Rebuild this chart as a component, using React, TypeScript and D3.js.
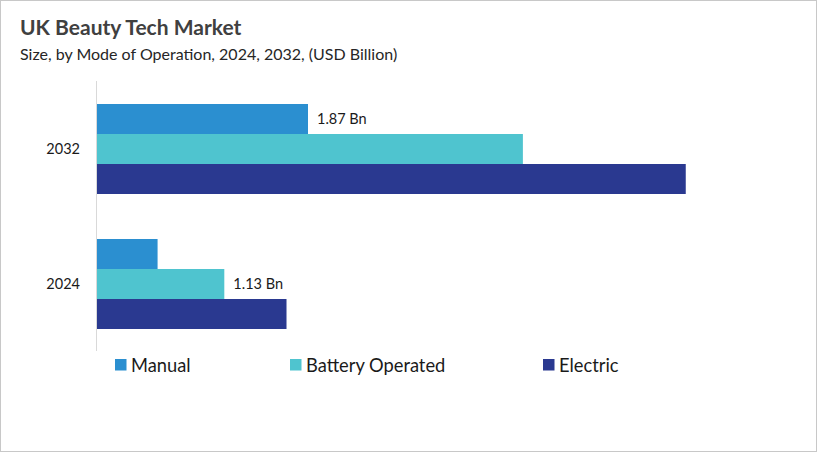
import React from "react";
import * as d3 from "d3";

const years = ["2032", "2024"];
const series = ["Manual", "Battery Operated", "Electric"];
const colors = ["#2B8FD0", "#4FC4CF", "#2A3990"];
const values2032 = [1.87, 3.77, 5.21];
const values2024 = [0.54, 1.13, 1.68];
const labels = [
  { year: "2032", series: "Manual", text: "1.87 Bn" },
  { year: "2024", series: "Battery Operated", text: "1.13 Bn" },
];

const W = 817;
const H = 452;
const FONT = "Lato, 'Open Sans', sans-serif";

export default function App() {
  const data: Record<string, number[]> = { "2032": values2032, "2024": values2024 };
  const x = d3.scaleLinear().domain([0, 6]).range([96.5, 96.5 + 6 * 113.1]);
  const y = d3
    .scaleBand<string>()
    .domain(years)
    .range([81.5, 351.5])
    .paddingInner(1 / 3)
    .paddingOuter(1 / 6);
  const ys = d3.scaleBand<string>().domain(series).range([0, y.bandwidth()]);
  const legendX = [115, 290, 543];

  return (
    <div style={{ position: "absolute", left: 0, top: 0 }}>
      <svg width={W} height={H} style={{ display: "block" }}>
        <rect x={0.5} y={0.5} width={W - 1} height={H - 1} fill="#fff" stroke="#c8c8c8" />
        <text x={20} y={35} fontFamily={FONT} fontWeight={700} fontSize={21} fill="#404040">
          UK Beauty Tech Market
        </text>
        <text x={20} y={59.5} fontFamily={FONT} fontSize={16} fill="#262626">
          Size, by Mode of Operation, 2024, 2032, (USD Billion)
        </text>
        {years.map((yr) => (
          <g key={yr}>
            {series.map((s, i) => (
              <rect
                key={s}
                x={x(0)}
                y={(y(yr) as number) + (ys(s) as number)}
                width={x(data[yr][i]) - x(0)}
                height={ys.bandwidth()}
                fill={colors[i]}
              />
            ))}
            <text
              x={80}
              y={(y(yr) as number) + y.bandwidth() / 2}
              dy="0.35em"
              textAnchor="end"
              fontFamily={FONT}
              fontSize={14.5}
              fill="#1a1a1a"
            >
              {yr}
            </text>
          </g>
        ))}
        <line x1={96.5} x2={96.5} y1={81} y2={351} stroke="#d9d9d9" strokeWidth={1} />
        {labels.map((l) => {
          const i = series.indexOf(l.series);
          return (
            <text
              key={l.text}
              x={x(data[l.year][i]) + 9}
              y={(y(l.year) as number) + (ys(l.series) as number) + ys.bandwidth() / 2}
              dy="0.35em"
              fontFamily={FONT}
              fontSize={14.5}
              fill="#1a1a1a"
            >
              {l.text}
            </text>
          );
        })}
        {series.map((s, i) => (
          <g key={s}>
            <rect x={legendX[i]} y={359} width={11.5} height={11.5} fill={colors[i]} />
            <text x={legendX[i] + 16} y={372} fontFamily={FONT} fontSize={18.3} fill="#1a1a1a">
              {s}
            </text>
          </g>
        ))}
      </svg>
    </div>
  );
}
